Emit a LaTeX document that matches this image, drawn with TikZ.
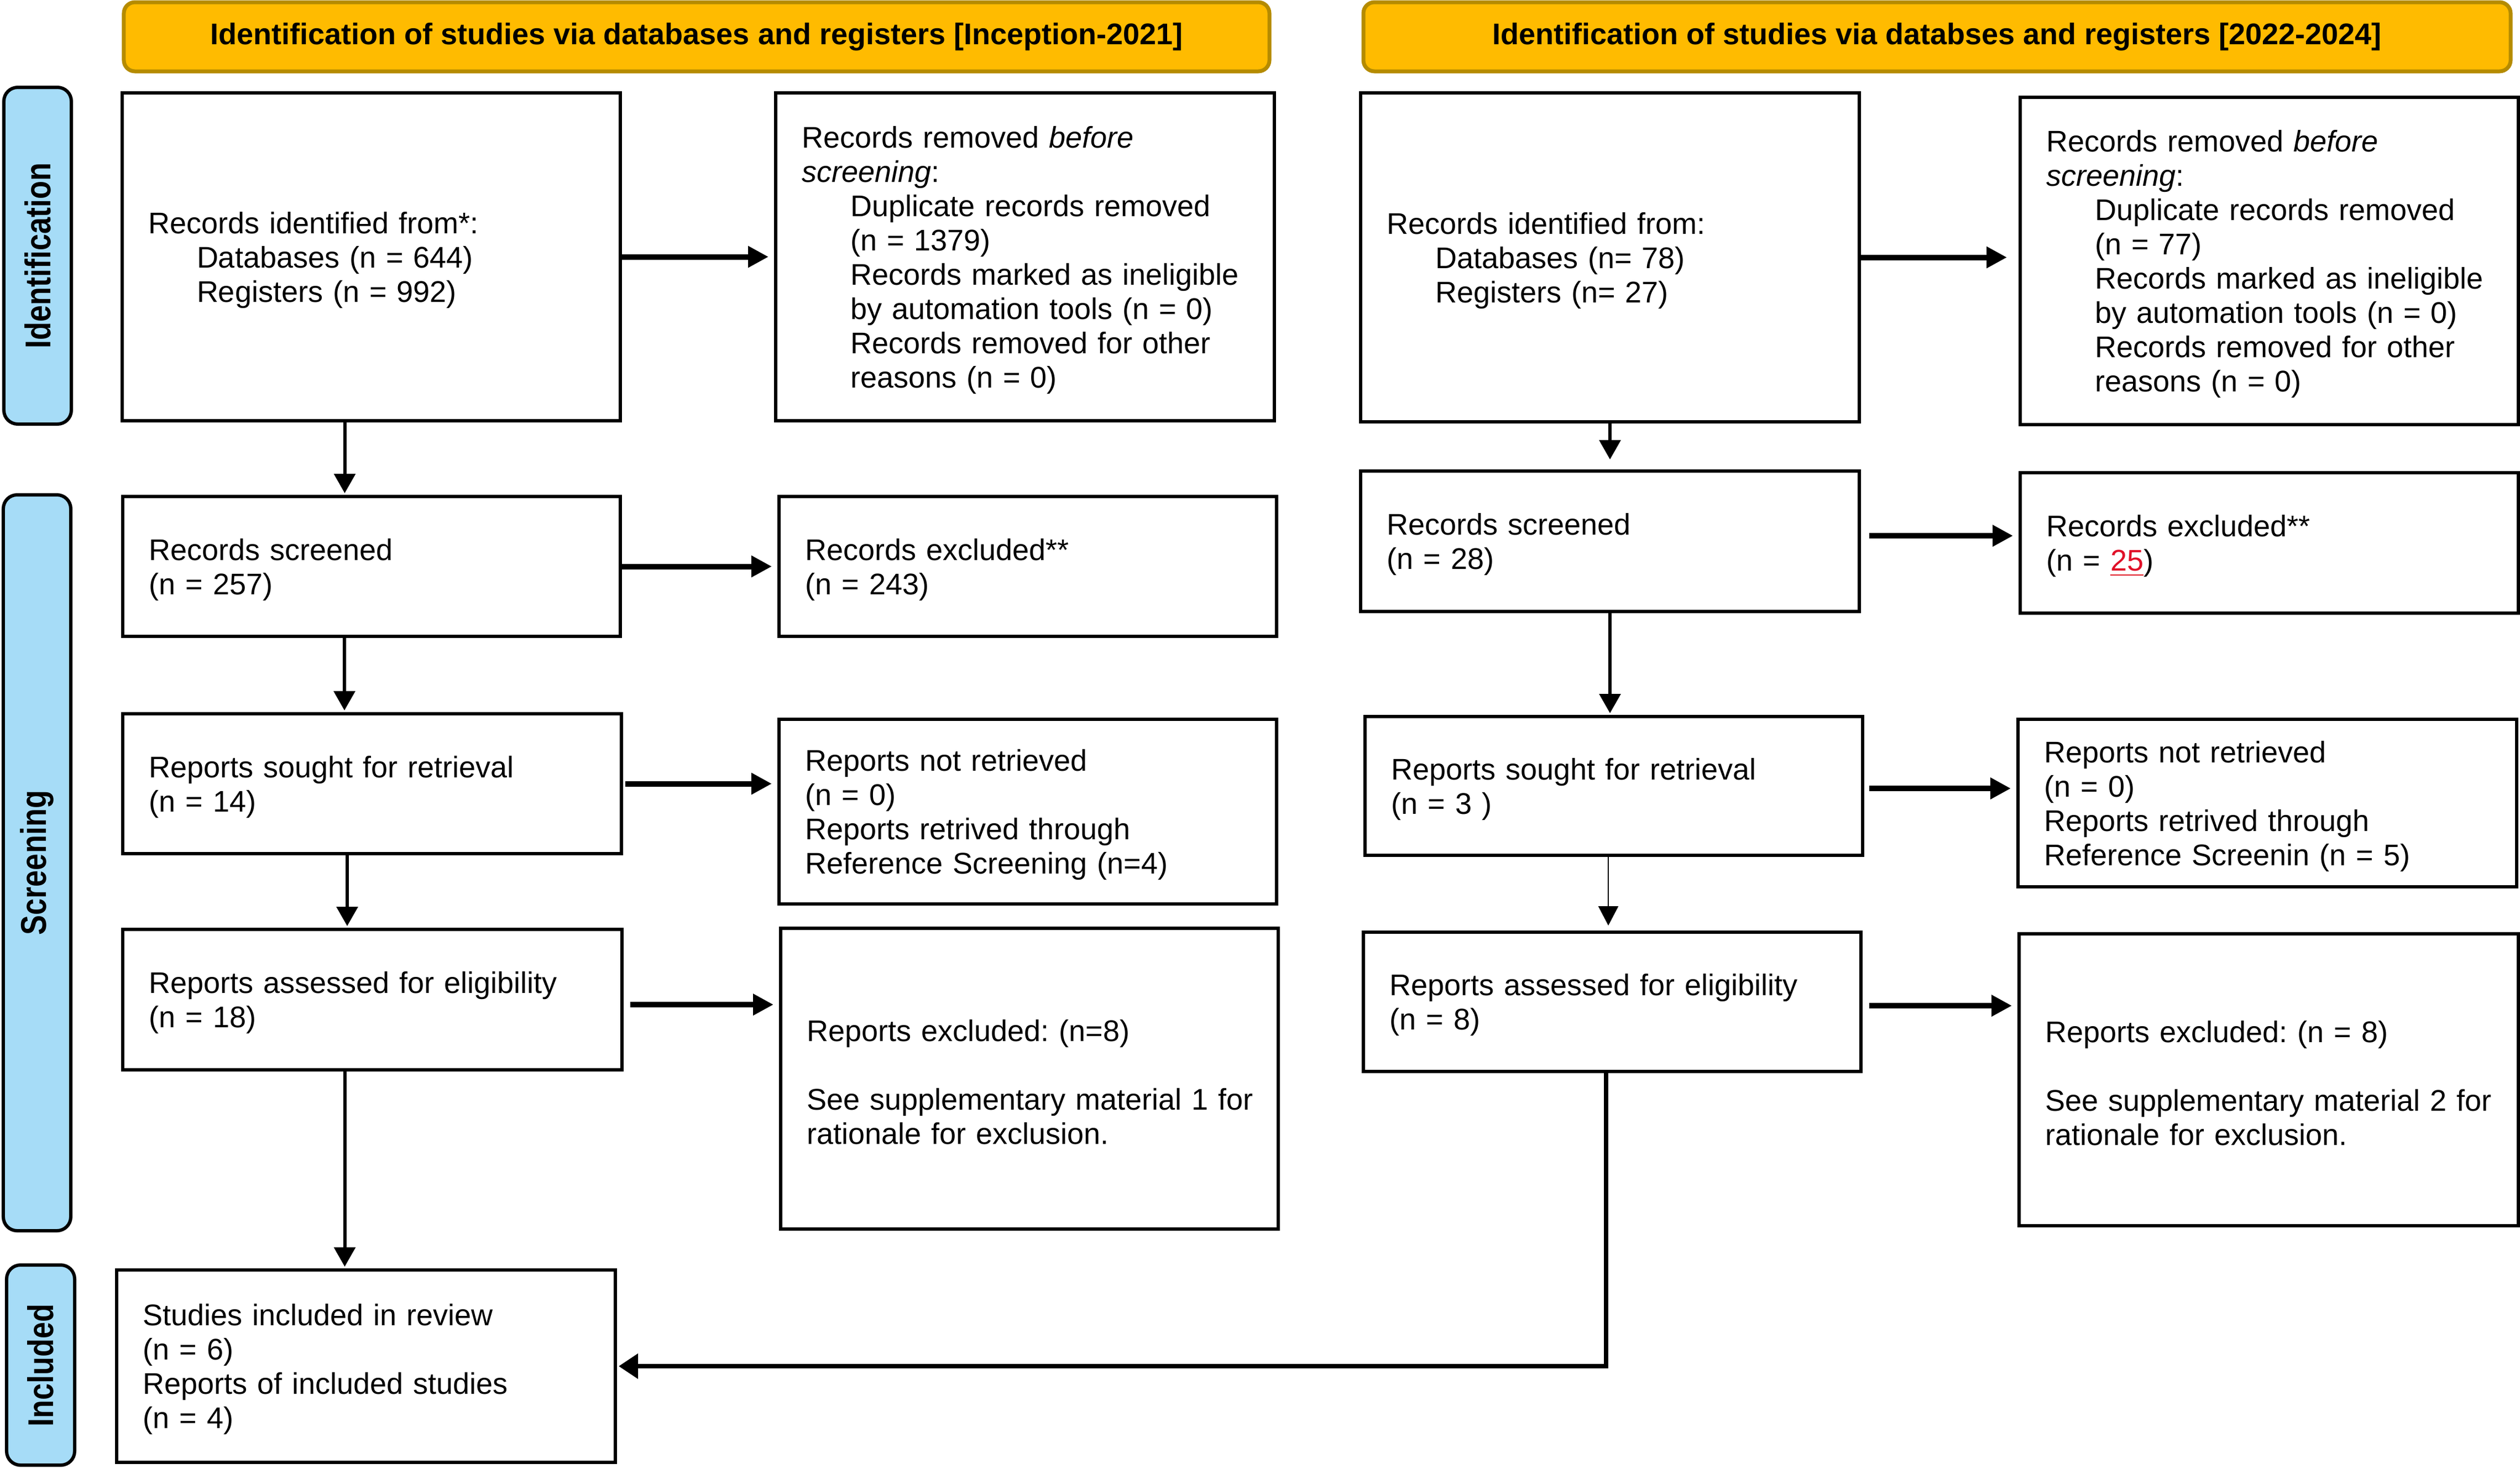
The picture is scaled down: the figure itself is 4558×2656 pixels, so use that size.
\documentclass[tikz,border=0pt]{standalone}
\usepackage{fontspec}
\setmainfont{Liberation Sans}
\usetikzlibrary{arrows.meta,calc}
\frenchspacing
\definecolor{hdrfill}{RGB}{255,187,0}
\definecolor{hdrline}{RGB}{181,139,0}
\definecolor{sidefill}{RGB}{166,220,247}
\definecolor{redn}{RGB}{224,16,40}
\newcommand\mkbox[6]{%
  \pgfmathsetmacro\bxW{(#4-#2)*0.2}%
  \pgfmathsetmacro\bxH{(#5-#3)*0.2}%
  \pgfmathsetmacro\bxT{(#4-#2)*0.2-19}%
  \node[fbox, minimum width=\bxW pt, minimum height=\bxH pt, text width=\bxT pt] (#1) at ({(#2+#4)/2},{(#3+#5)/2}) {\rule{0pt}{10.2pt}#6};}
\newcommand\ind{\hspace*{17.5pt}}
\begin{document}
\begin{tikzpicture}[x=0.2pt,y=-0.2pt,
  fbox/.style={draw=black, line width=1.2pt, fill=white, rectangle, inner xsep=9.5pt, inner ysep=0pt, align=left, font=\fontsize{10.8}{12.4}\selectfont},
  hdr/.style={draw=hdrline, fill=hdrfill, line width=1.4pt, rounded corners=4pt, inner sep=0pt, font=\bfseries\fontsize{10.8}{13}\selectfont},
  side/.style={draw=black, fill=sidefill, line width=1.2pt, rounded corners=5pt, inner sep=0pt, font=\bfseries\fontsize{10.8}{13}\selectfont},
  harrow/.style={line width=2pt, shorten >=2pt, -{Triangle[width=7.4pt,length=7.4pt]}},
  varrow/.style={line width=1.2pt, shorten >=0.6pt, -{Triangle[width=7.6pt,length=7pt]}},
  thinarrow/.style={line width=0.5pt, shorten >=1.8pt, -{Triangle[width=7.2pt,length=7pt]}},
  retarrow/.style={line width=1.6pt, shorten >=0.6pt, -{Triangle[width=8.8pt,length=7pt]}}
]
\useasboundingbox (0,0) rectangle (4558,2656);

% headers
\node[hdr, minimum width=414.4pt, minimum height=25pt] (h1) at (1260,66.5) {Identification of studies via databases and registers [Inception-2021]};
\node[hdr, minimum width=415pt, minimum height=25pt] (h2) at (3503.5,66.5) {Identification of studies via databses and registers [2022-2024]};

% side labels
\node[side, minimum width=24.4pt, minimum height=121.8pt] (l1) at (68,462.5) {\rotatebox{90}{\scalebox{1}[1.2]{Identification}}};
\node[side, minimum width=24.4pt, minimum height=266.2pt] (l2) at (67,1560.5) {\rotatebox{90}{\scalebox{1}[1.2]{Screening}}};
\node[side, minimum width=24.6pt, minimum height=72.4pt] (l3) at (73.5,2469) {\rotatebox{90}{\scalebox{1}[1.2]{Included}}};

% left column
\mkbox{B1}{221}{168}{1122}{761}{Records identified from*:\\\ind Databases (n = 644)\\\ind Registers (n = 992)}
\mkbox{R1}{1403}{168}{2305}{761}{Records removed \textit{before}\\\textit{screening}:\\\ind Duplicate records removed\\\ind (n = 1379)\\\ind Records marked as ineligible\\\ind by automation tools (n = 0)\\\ind Records removed for other\\\ind reasons (n = 0)}
\mkbox{B2}{222}{898}{1122}{1151}{Records screened\\(n = 257)}
\mkbox{R2}{1409}{898}{2309}{1151}{Records excluded**\\(n = 243)}
\mkbox{B3}{222}{1291}{1124}{1544}{Reports sought for retrieval\\(n = 14)}
\mkbox{R3}{1409}{1301}{2309}{1635}{Reports not retrieved\\(n = 0)\\Reports retrived through\\Reference Screening (n=4)}
\mkbox{B4}{222}{1681}{1125}{1935}{Reports assessed for eligibility\\(n = 18)}
\mkbox{R4}{1412}{1679}{2312}{2223}{Reports excluded: (n=8)\\[12.4pt]\mbox{See supplementary material 1 for}\\rationale for exclusion.}
\mkbox{B5}{211}{2297}{1113}{2645}{Studies included in review\\(n = 6)\\Reports of included studies\\(n = 4)}

% right column
\mkbox{C1}{2461}{168}{3363}{763}{Records identified from:\\\ind Databases (n= 78)\\\ind Registers (n= 27)}
\mkbox{S1}{3654}{176}{4555}{768}{Records removed \textit{before}\\\textit{screening}:\\\ind Duplicate records removed\\\ind (n = 77)\\\ind Records marked as ineligible\\\ind by automation tools (n = 0)\\\ind Records removed for other\\\ind reasons (n = 0)}
\mkbox{C2}{2461}{852}{3363}{1106}{Records screened\\(n = 28)}
\mkbox{S2}{3654}{855}{4555}{1109}{Records excluded**\\(n = \textcolor{redn}{\underline{25}})}
\mkbox{C3}{2469}{1296}{3369}{1547}{Reports sought for retrieval\\(n = 3 )}
\mkbox{S3}{3650}{1301}{4552}{1604}{Reports not retrieved\\(n = 0)\\Reports retrived through\\Reference Screenin (n = 5)}
\mkbox{C4}{2466}{1686}{3366}{1938}{Reports assessed for eligibility\\(n = 8)}
\mkbox{S4}{3652}{1689}{4555}{2217}{Reports excluded: (n = 8)\\[12.4pt]\mbox{See supplementary material 2 for}\\rationale for exclusion.}

% left vertical arrows
\coordinate (a1) at ([xshift=-9.6pt]B1.south);
\draw[varrow] (a1) -- (a1 |- B2.north);
\coordinate (a2) at ([xshift=-9.8pt]B2.south);
\draw[varrow] (a2) -- (a2 |- B3.north);
\coordinate (a3) at ([xshift=-9pt]B3.south);
\draw[varrow] (a3) -- (a3 |- B4.north);
\coordinate (a4) at ([xshift=-10pt]B4.south);
\draw[varrow] (a4) -- (a4 |- B5.north);

% left horizontal arrows
\draw[harrow] (B1.east) -- (B1.east -| R1.west);
\draw[harrow] (B2.east) -- (B2.east -| R2.west);
\draw[harrow, shorten <=0.8pt] (B3.east) -- (B3.east -| R3.west);
\coordinate (b4) at ([yshift=-1.8pt]B4.east);
\draw[harrow, shorten <=2.4pt] (b4) -- (b4 -| R4.west);

% right vertical arrows
\draw[varrow, shorten >=3.6pt] (C1.south) -- (C1.south |- C2.north);
\draw[varrow] (C2.south) -- (C2.south |- C3.north);
\coordinate (c3) at ([xshift=-2pt]C3.south);
\draw[thinarrow] (c3) -- (c3 |- C4.north);
\coordinate (c4) at ([xshift=-2.2pt]C4.south);
\draw[retarrow] (c4) |- (B5.east);

% right horizontal arrows
\draw[harrow, shorten >=4.2pt] (C1.east) -- (C1.east -| S1.west);
\coordinate (d2) at ([yshift=2pt]C2.east);
\draw[harrow, shorten <=3pt] (d2) -- (d2 -| S2.west);
\coordinate (d3) at ([yshift=-0.9pt]C3.east);
\draw[harrow, shorten <=1.8pt] (d3) -- (d3 -| S3.west);
\coordinate (d4) at ([yshift=-1.4pt]C4.east);
\draw[harrow, shorten <=2.4pt] (d4) -- (d4 -| S4.west);
\end{tikzpicture}
\end{document}
